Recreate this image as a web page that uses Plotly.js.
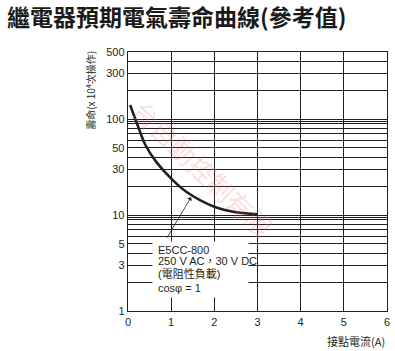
<!DOCTYPE html>
<html>
<head>
<meta charset="utf-8">
<script src="https://cdn.plot.ly/plotly-3.0.1.min.js"></script>
<style>html,body{margin:0;padding:0;background:#fff;}#chart{width:395px;height:351px;}</style>
</head>
<body>
<div id="chart"></div>
<script>
// ---- data ----
const currentA = [0.05, 0.25, 0.4, 0.65, 1.0, 1.35, 2.0, 2.5, 3.0];
const lifeE4 = [140, 80, 54, 36, 24, 17.5, 12.2, 10.7, 10.2];
const xTickVals = [0, 1, 2, 3, 4, 5, 6];
const yGridVals = [1, 2, 3, 4, 5, 6, 7, 8, 9, 9.5, 10, 20, 30, 40, 50, 60, 70, 80, 90, 95, 100, 200, 300, 400, 500];
const yLabelVals = [1, 3, 5, 10, 30, 50, 100, 300, 500];
const noteLines = ["E5CC-800", "250 V AC\uFF0C30 V DC", "(電阻性負載)", "cos\u03C6 = 1"];
const chartTitle = "繼電器預期電氣壽命曲線(參考值)";
const yTitle = "壽命(x 10<sup>4</sup>次操作)";
const xTitle = "接點電流(A)";
const watermark = "台自動控制有限";

const ink = "#231f20";
const tickFont = {family: "Liberation Sans, Arial, sans-serif", size: 11, color: ink};
const yTickText = yGridVals.map(v => yLabelVals.includes(v) ? String(v) : "");

// y positions (log10) for the note lines
const noteY = [0.635, 0.516, 0.393, 0.243];

const annotations = [
  {xref: "paper", yref: "paper", x: -0.145, y: 0.852, xanchor: "center", yanchor: "middle",
   text: yTitle, textangle: -90, showarrow: false,
   font: {family: "Noto Sans CJK TC, Liberation Sans, sans-serif", size: 10, color: ink}},
  {xref: "paper", yref: "paper", x: 1.0, y: -0.115, xanchor: "right", yanchor: "middle", text: xTitle,
   showarrow: false, font: {family: "Noto Sans CJK TC, Liberation Sans, sans-serif", size: 11, color: ink}},
  {xref: "paper", yref: "paper", x: 0.29, y: 0.55, xanchor: "center", yanchor: "middle",
   text: watermark, textangle: 44, showarrow: false,
   font: {family: "Noto Sans CJK TC, sans-serif", size: 26, color: "rgba(235,100,110,0.22)"}},
  {xref: "x", yref: "y", x: 1.46, y: Math.log10(15.3), ax: -25, ay: 42, text: "",
   showarrow: true, arrowhead: 1, arrowsize: 1.2, arrowwidth: 0.8, arrowcolor: ink},
  // white backdrop behind the note
  {xref: "x", yref: "paper", x: 1.688, y: 0.16, xanchor: "center", yanchor: "middle",
   text: " ", width: 95, height: 55, borderpad: 0, bgcolor: "#ffffff", showarrow: false,
   font: {size: 10, color: "#ffffff"}}
];
noteLines.forEach((t, i) => {
  annotations.push({xref: "x", yref: "y", x: 0.64, y: noteY[i], xanchor: "left", yanchor: "middle",
    text: t, showarrow: false,
    font: {family: "Liberation Sans, Noto Sans CJK TC, sans-serif", size: 11, color: ink}});
});

const trace = {
  x: currentA, y: lifeE4, type: "scatter", mode: "lines",
  line: {color: ink, width: 2.6, shape: "spline", smoothing: 1.0},
  hoverinfo: "skip"
};

const layout = {
  width: 395, height: 351,
  margin: {l: 127.5, r: 8, t: 51.7, b: 40},
  paper_bgcolor: "#fff", plot_bgcolor: "#fff",
  showlegend: false,
  title: {text: "<b>" + chartTitle + "</b>", x: 0.018, xanchor: "left", xref: "container",
          y: 1 - 18 / 351, yanchor: "middle", yref: "container",
          font: {family: "Noto Sans CJK TC, sans-serif", size: 23, color: "#1a1a1a"}},
  xaxis: {range: [0, 6], tickvals: xTickVals, ticks: "", showgrid: true, gridcolor: ink, gridwidth: 1,
          zeroline: false, showline: true, linecolor: ink, linewidth: 1.3, mirror: true,
          tickfont: tickFont, fixedrange: true},
  yaxis: {type: "log", range: [0, Math.log10(500)], tickvals: yGridVals, ticktext: yTickText,
          ticks: "", showgrid: true, gridcolor: ink, gridwidth: 1, zeroline: false,
          showline: true, linecolor: ink, linewidth: 1.3, mirror: true,
          tickfont: tickFont, fixedrange: true},
  annotations: annotations
};

Plotly.newPlot("chart", [trace], layout, {staticPlot: true, displayModeBar: false});
</script>
</body>
</html>
